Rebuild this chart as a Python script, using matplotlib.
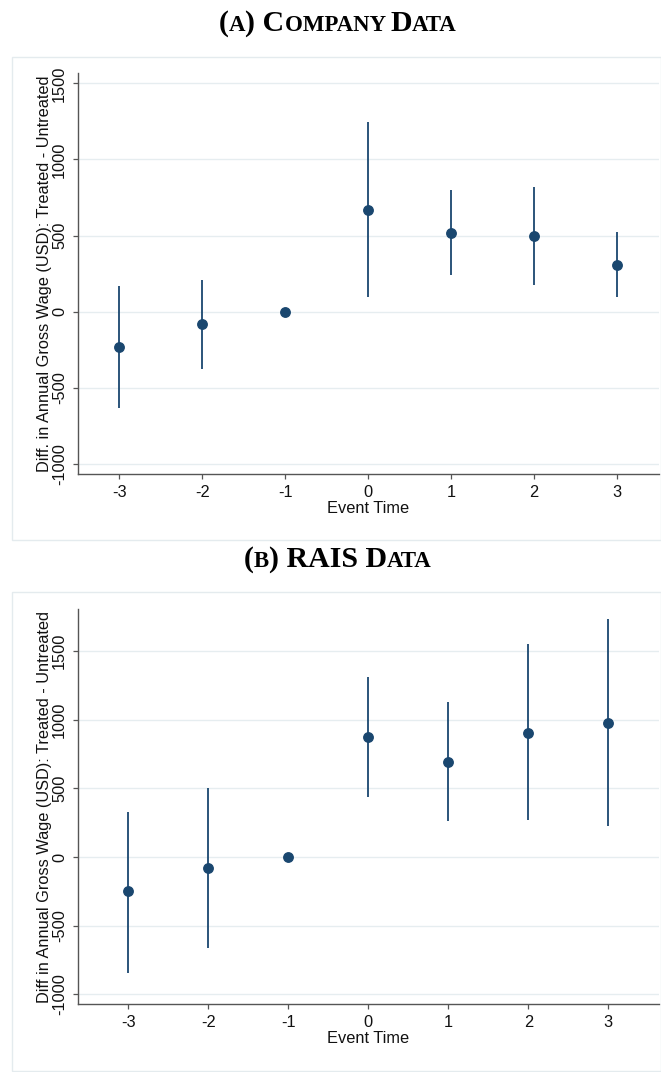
import matplotlib
matplotlib.use("Agg")
import matplotlib.pyplot as plt
from matplotlib.patches import Rectangle

event_time = [-3, -2, -1, 0, 1, 2, 3]
xtick_labels = ["-3", "-2", "-1", "0", "1", "2", "3"]
yticks = [-1000, -500, 0, 500, 1000, 1500]

company_coef = [-234, -83, 0, 670, 519, 499, 309]
company_lo = [-631, -377, 0, 94, 241, 175, 94]
company_hi = [169, 208, 0, 1248, 799, 821, 523]

rais_coef = [-248, -78, 0, 876, 694, 905, 973]
rais_lo = [-842, -665, 0, 439, 262, 269, 225]
rais_hi = [330, 505, 0, 1311, 1131, 1551, 1730]

W, H = 661, 1072
DPI = 100
fig = plt.figure(figsize=(W / DPI, H / DPI), dpi=DPI)
fig.patch.set_facecolor("white")

NAVY = "#1a476f"
GRID = "#e6edf0"
SPINE = "#555555"
TXT = "#111111"
SANS = ["Liberation Sans", "DejaVu Sans"]
SERIF = ["Liberation Serif", "DejaVu Serif"]
FS = 11.8


def px_axes(l, t, r, b):
    return fig.add_axes([l / W, 1 - b / H, (r - l) / W, (b - t) / H])


def frame(l, t, r, b):
    fig.patches.append(Rectangle((l / W, 1 - b / H), (r - l) / W, (b - t) / H,
                                 transform=fig.transFigure, fill=False,
                                 edgecolor="#e4ebee", linewidth=1.0))


def smallcaps_title(pieces, cx, ybase):
    renderer = fig.canvas.get_renderer()
    texts = []
    for s, big in pieces:
        t = fig.text(0, ybase / H, s, fontsize=21.5 if big else 16.5,
                     fontweight="bold", family=SERIF, color="black",
                     va="baseline", ha="left", transform=fig.transFigure)
        texts.append(t)
    widths = [t.get_window_extent(renderer).width for t in texts]
    total = sum(widths)
    x = cx - total / 2
    for t, w in zip(texts, widths):
        t.set_x(x / W)
        x += w


def panel(ax, coef, lo, hi, ylim, xlim, ylabel):
    for yv in yticks:
        ax.axhline(yv, color=GRID, linewidth=1.0, zorder=0)
    ax.vlines(event_time, lo, hi, color=NAVY, linewidth=1.3, zorder=2)
    ax.plot(event_time, coef, "o", color=NAVY, markersize=6.8, zorder=3)
    ax.set_xlim(*xlim)
    ax.set_ylim(*ylim)
    ax.set_xticks(event_time)
    ax.set_xticklabels(xtick_labels, family=SANS, fontsize=FS, color=TXT)
    ax.set_yticks(yticks)
    ax.set_yticklabels([str(v) for v in yticks], family=SANS, fontsize=FS,
                       color=TXT, rotation=90, va="center")
    for s in ["top", "right"]:
        ax.spines[s].set_visible(False)
    for s in ["left", "bottom"]:
        ax.spines[s].set_color(SPINE)
        ax.spines[s].set_linewidth(1.0)
    ax.tick_params(axis="both", direction="out", length=3.6, width=0.9,
                   color=SPINE, pad=4)
    ax.set_xlabel("Event Time", family=SANS, fontsize=FS, color=TXT, labelpad=1)
    ax.set_ylabel(ylabel, family=SANS, fontsize=FS, color=TXT, labelpad=0)
    ax.set_facecolor("white")


# Panel A
frame(12, 57, 661, 540)
axA = px_axes(77.7, 73.3, 658.7, 474)
panel(axA, company_coef, company_lo, company_hi, (-1066, 1566), (-3.5, 3.5),
      "Diff. in Annual Gross Wage (USD): Treated - Untreated")
smallcaps_title([("(", True), ("A", False), (") C", True), ("OMPANY ", False),
                 ("D", True), ("ATA", False)], 338, 1072 - 31)

# Panel B
frame(12, 592, 661, 1071)
axB = px_axes(77.7, 609.3, 658.7, 1004)
panel(axB, rais_coef, rais_lo, rais_hi, (-1070, 1803), (-3.63, 3.63),
      "Diff in Annual Gross Wage (USD): Treated - Untreated")
smallcaps_title([("(", True), ("B", False), (") RAIS D", True), ("ATA", False)],
                338, 1072 - 567)

fig.savefig("out.png", dpi=DPI)
